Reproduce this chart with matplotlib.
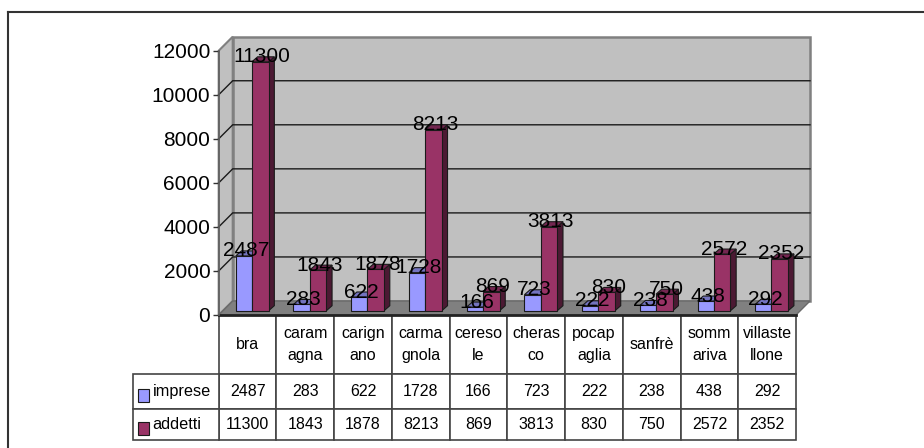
import matplotlib
matplotlib.use('Agg')
import matplotlib.pyplot as plt
from matplotlib.patches import Polygon, Rectangle

plt.rcParams['font.family'] = ['Liberation Sans', 'DejaVu Sans']

comuni = ['bra', 'caram\nagna', 'carign\nano', 'carma\ngnola', 'cereso\nle',
          'cheras\nco', 'pocap\naglia', 'sanfrè', 'somm\nariva', 'villaste\nllone']
imprese = [2487, 283, 622, 1728, 166, 723, 222, 238, 438, 292]
addetti = [11300, 1843, 1878, 8213, 869, 3813, 830, 750, 2572, 2352]
yticks = [0, 2000, 4000, 6000, 8000, 10000, 12000]
serie = ['imprese', 'addetti']

W, H = 924, 448
L, R, T, B = 218.7, 796.0, 50.7, 315.0  # front plane of the 3d box, px

fig = plt.figure(figsize=(W / 100, H / 100), dpi=100)
ax = fig.add_axes([L / W, 1 - B / H, (R - L) / W, (B - T) / H])
ax.set_xlim(0, len(comuni))
ax.set_ylim(0, 12000)
for s in ax.spines.values():
    s.set_visible(False)
ax.patch.set_visible(False)

# px -> data sizes
px_x = len(comuni) / (R - L)
px_y = 12000 / (B - T)
depth_x, depth_y = 14 * px_x, 14 * px_y
n = len(comuni)

# walls and floor
ax.add_patch(Polygon([(0, 0), (depth_x, depth_y), (depth_x, 12000 + depth_y), (0, 12000)],
                     fc='#c0c0c0', ec='#808080', lw=1.5, zorder=1, clip_on=False))
ax.add_patch(Rectangle((depth_x, depth_y), n, 12000, fc='#c0c0c0', ec='#808080', lw=1.8,
                       zorder=1, clip_on=False))
ax.add_patch(Polygon([(0, 0), (n, 0), (n + depth_x, depth_y), (depth_x, depth_y)],
                     fc='#808080', ec='#6a6a6a', lw=1, zorder=2, clip_on=False))

# gridlines on the wall
for v in yticks[1:-1]:
    ax.plot([0, depth_x, n + depth_x], [v, v + depth_y, v + depth_y], color='#1a1a1a', lw=1,
            zorder=2, clip_on=False, solid_joinstyle='miter')
ax.plot([0, n], [0, 0], color='#222222', lw=2, zorder=3, clip_on=False)
ax.plot([0, 0], [0, 12000], color='#606060', lw=1.2, zorder=3, clip_on=False)


def bar3d(x0, x1, val, front, side, top, z):
    base = 4.3 * px_y
    dx, dy = 5.7 * px_x, 5 * px_y
    y1 = base + val
    ax.add_patch(Polygon([(x1, base), (x1 + dx, base + dy), (x1 + dx, y1 + dy), (x1, y1)],
                         fc=side, ec='#1a1a1a', lw=0.8, zorder=z))
    ax.add_patch(Polygon([(x0, y1), (x1, y1), (x1 + dx, y1 + dy), (x0 + dx, y1 + dy)],
                         fc=top, ec='#1a1a1a', lw=0.8, zorder=z))
    ax.add_patch(Rectangle((x0, base), x1 - x0, val, fc=front, ec='#1a1a1a', lw=0.8, zorder=z))


for i in range(n):
    bar3d(i + 0.295, i + 0.575, imprese[i], '#9999ff', '#4c4c80', '#7373bf', 5)
    bar3d(i + 0.575, i + 0.865, addetti[i], '#993366', '#4c1933', '#732650', 6)

# data labels, on top of everything
for i in range(n):
    ax.text(i + 0.47, imprese[i] + 9.3 * px_y, str(imprese[i]), ha='center', va='center',
            fontsize=15, color='black', zorder=10)
    ax.text(i + 0.75, addetti[i] + 9.3 * px_y, str(addetti[i]), ha='center', va='center',
            fontsize=15, color='black', zorder=10)

ax.set_yticks(yticks)
ax.set_xticks([])
ax.tick_params(axis='y', labelsize=15, length=4, width=1, color='#333333', pad=2)

# data table under the plot
row_h = [59, 35, 31]
table_h = sum(row_h) / (B - T)
leg_w = (L - 132.7) / (R - L)
tb = ax.table(cellText=[imprese, addetti], colLabels=comuni, cellLoc='center',
              bbox=[0, -table_h, 1, table_h])
tb.auto_set_font_size(False)
tb.set_fontsize(11.5)
for (r, c), cell in tb.get_celld().items():
    cell.set_edgecolor('#444444')
    cell.set_linewidth(1.2)
    cell.set_height(row_h[r] / (B - T))
    cell.get_text().set_linespacing(1.6)
    cell.PAD = 0.02

# row labels with the legend keys
lab_h = sum(row_h[1:]) / (B - T)
tl = ax.table(cellText=[[s] for s in serie], cellLoc='left', bbox=[-leg_w, -table_h, leg_w, lab_h])
tl.auto_set_font_size(False)
tl.set_fontsize(11.7)
for (r, c), cell in tl.get_celld().items():
    cell.set_edgecolor('#444444')
    cell.set_linewidth(1.2)
    cell.set_height(row_h[r + 1] / (B - T))
    cell.PAD = 0.23

for yc, col in [(395, '#9999ff'), (428, '#993366')]:
    fig.add_artist(Rectangle((137.7 / W, 1 - (yc + 6.5) / H), 11 / W, 13 / H, fc=col, ec='#1a1a1a',
                             lw=0.8, transform=fig.transFigure, zorder=20))

# outer frame: only top and left edges are in the crop
fig.add_artist(plt.Line2D([8 / W, 8 / W], [0, 1 - 12 / H], color='#333333', lw=1.5))
fig.add_artist(plt.Line2D([8 / W, 1], [1 - 12 / H, 1 - 12 / H], color='#333333', lw=1.5))

fig.savefig('out.png', dpi=100)
